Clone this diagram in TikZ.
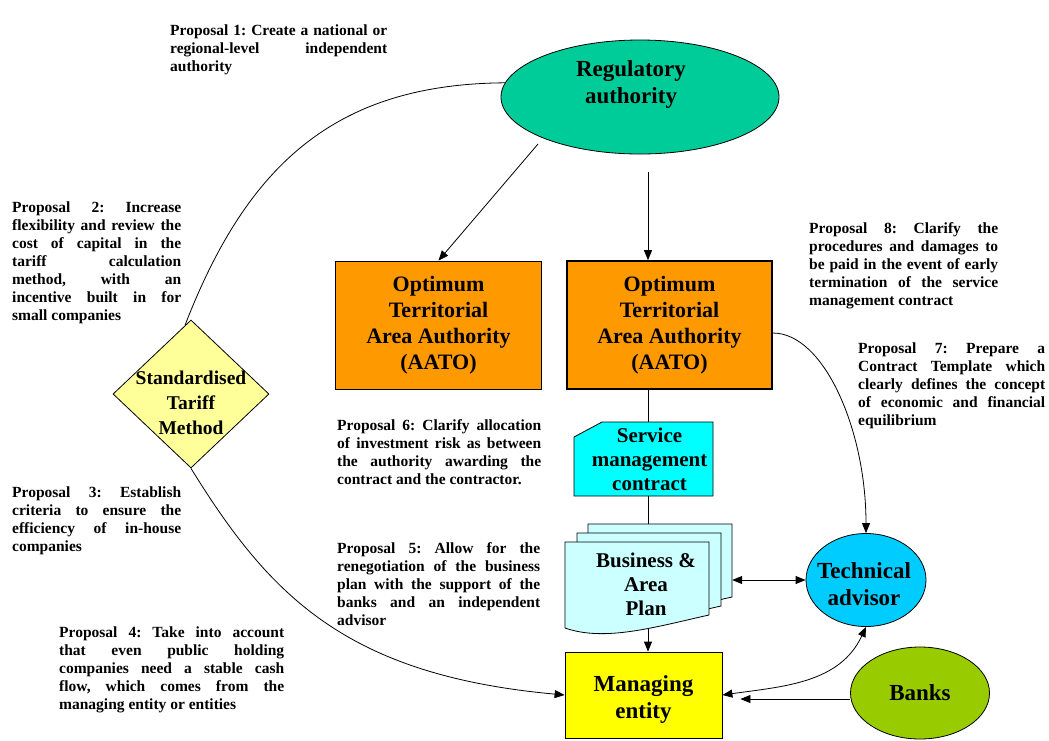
\documentclass[tikz,border=0pt]{standalone}
\usepackage{fontspec}
\setmainfont{Liberation Serif}
\usetikzlibrary{arrows.meta,shapes.geometric}
\definecolor{regc}{RGB}{0,204,153}
\definecolor{aatoc}{RGB}{255,153,0}
\definecolor{stmc}{RGB}{255,255,153}
\definecolor{smcc}{RGB}{0,255,255}
\definecolor{bapc}{RGB}{204,255,255}
\definecolor{mgrc}{RGB}{255,255,0}
\definecolor{techc}{RGB}{0,204,255}
\definecolor{bankc}{RGB}{153,204,0}
\newcommand\jl[2]{\makebox[#2][s]{#1}}
\frenchspacing
\begin{document}
\begin{tikzpicture}[x=1pt,y=1pt,
  ln/.style={line width=0.8pt},
  arr/.style={line width=0.8pt,-{Triangle[length=10pt,width=8pt]}},
  darr/.style={line width=0.8pt,{Triangle[length=10pt,width=8pt]}-{Triangle[length=10pt,width=8pt]}},
  prop/.style={anchor=north west,inner sep=0pt,align=left,font=\fontsize{15.5}{18}\selectfont\bfseries},
  t23/.style={font=\fontsize{23}{27}\selectfont\bfseries,align=center,inner sep=0pt},
  t22/.style={font=\fontsize{22}{26}\selectfont\bfseries,align=center,inner sep=0pt},
  t21/.style={font=\fontsize{21}{24}\selectfont\bfseries,align=center,inner sep=0pt},
  t20/.style={font=\fontsize{19.5}{25}\selectfont\bfseries,align=center,inner sep=0pt},
  shp/.style={draw,line width=0.8pt,inner sep=0pt},
  doc/.pic={\draw[line width=0.8pt,fill=bapc] (0,0) -- (144,0) -- (144,-73) .. controls (90,-85) and (40,-100) .. (0,-86) -- cycle;}
]
\useasboundingbox (0,0) rectangle (1049,-740);

% main nodes
\node[shp,ellipse,fill=regc,minimum width=278pt,minimum height=114pt,
  label={[t23,xshift=-9pt,yshift=13pt]center:Regulatory\\authority}] (reg) at (640,-97) {};
\node[shp,rectangle,fill=aatoc,minimum width=206pt,minimum height=128pt,t22] (aatoL) at (438.5,-325)
  {Optimum\\Territorial\\Area Authority\\(AATO)};
\node[shp,rectangle,fill=aatoc,line width=1.6pt,minimum width=205pt,minimum height=128pt,t22] (aatoR) at (669.5,-325)
  {Optimum\\Territorial\\Area Authority\\(AATO)};
\node[shp,diamond,fill=stmc,minimum width=156pt,minimum height=148pt,
  label={[t20,yshift=-9pt]center:Standardised\\Tariff\\Method}] (stm) at (191,-394) {};

% service management contract (card shape)
\draw[ln,fill=smcc] (574,-437) -- (602,-422) -- (713,-422) -- (713,-496) -- (574,-496) -- cycle;
\node[inner sep=0pt,minimum width=139pt,minimum height=74pt,
  label={[t21,xshift=6pt]center:Service\\management\\contract}] (smc) at (643.5,-459) {};

% business & area plan (multi-document)
\pic at (588,-524) {doc};
\pic at (577,-533) {doc};
\pic at (565,-542) {doc};
\node[inner sep=0pt,minimum width=167pt,minimum height=104pt,
  label={[t21,xshift=-2.5pt,yshift=-8pt]center:Business \&\\Area\\Plan}] (bap) at (648.5,-576) {};

\node[shp,rectangle,fill=mgrc,minimum width=157pt,minimum height=86pt,
  label={[t23,yshift=-4pt]center:Managing\\entity}] (mgr) at (643.5,-695) {};
\node[shp,ellipse,fill=techc,minimum width=120pt,minimum height=93pt,
  label={[t23,yshift=-4pt,xshift=-2pt]center:Technical\\advisor}] (tech) at (866,-580) {};
\node[shp,ellipse,fill=bankc,minimum width=139pt,minimum height=92pt,t23] (banks) at (920,-693) {Banks};

% proposals
\node[prop] (p1) at (170,-24.5) {\jl{Proposal 1: Create a national or}{217pt}\\
  \jl{regional-level independent}{217pt}\\authority};
\node[prop] (p2) at (12,-201.5) {\jl{Proposal 2: Increase}{169pt}\\
  \jl{flexibility and review the}{169pt}\\
  \jl{cost of capital in the}{169pt}\\
  \jl{tariff calculation}{169pt}\\
  \jl{method, with an}{169pt}\\
  \jl{incentive built in for}{169pt}\\
  small companies};
\node[prop] (p3) at (12,-486.5) {\jl{Proposal 3: Establish}{169pt}\\
  \jl{criteria to ensure the}{169pt}\\
  \jl{efficiency of in-house}{169pt}\\
  companies};
\node[prop] (p4) at (59,-626.5) {\jl{Proposal 4: Take into account}{225pt}\\
  \jl{that even public holding}{225pt}\\
  \jl{companies need a stable cash}{225pt}\\
  \jl{flow, which comes from the}{225pt}\\
  managing entity or entities};
\node[prop] (p5) at (337,-542.5) {\jl{Proposal 5: Allow for the}{203pt}\\
  \jl{renegotiation of the business}{203pt}\\
  \jl{plan with the support of the}{203pt}\\
  \jl{banks and an independent}{203pt}\\
  advisor};
\node[prop] (p6) at (337,-419.5) {\jl{Proposal 6: Clarify allocation}{204pt}\\
  \jl{of investment risk as between}{204pt}\\
  \jl{the authority awarding the}{204pt}\\
  contract and the contractor.};
\node[prop] (p7) at (858,-342.5) {\jl{Proposal 7: Prepare a}{187pt}\\
  \jl{Contract Template which}{187pt}\\
  \jl{clearly defines the concept}{187pt}\\
  \jl{of economic and financial}{187pt}\\
  equilibrium};
\node[prop] (p8) at (809,-222.5) {\jl{Proposal 8: Clarify the}{189pt}\\
  \jl{procedures and damages to}{189pt}\\
  \jl{be paid in the event of early}{189pt}\\
  \jl{termination of the service}{189pt}\\
  management contract};

% connectors
\coordinate (c1) at (538,-144);
\coordinate (c2) at (648,-172);
\draw[arr] (c1) -- (aatoL.north);
\draw[arr] (c2) -- (c2 |- aatoR.north);
\draw[ln] (c2 |- aatoR.south) -- (c2 |- smc.north);
\draw[ln] (c2 |- smc.south) -- (c2 |- bap.north);
\draw[arr] (c2 |- bap.south) -- (c2 |- mgr.north);
\draw[darr] (tech.west -| bap.east) -- (tech.west);
\draw[darr] (tech.south) to[out=-115,in=8] (mgr.east);
\draw[arr,shorten >=18pt] ([yshift=-6pt]banks.west) -- ([yshift=-6pt]banks.west -| mgr.east);
\draw[arr] ([yshift=-8pt]aatoR.east) .. controls (824,-333) and (866,-430) .. (tech.north);
\draw[ln] (reg.174) .. controls (335,-84) and (247,-165) .. (stm.95);
\draw[arr] (stm.south) .. controls (269,-594.5) and (345,-675) .. (mgr.west);
\end{tikzpicture}
\end{document}
